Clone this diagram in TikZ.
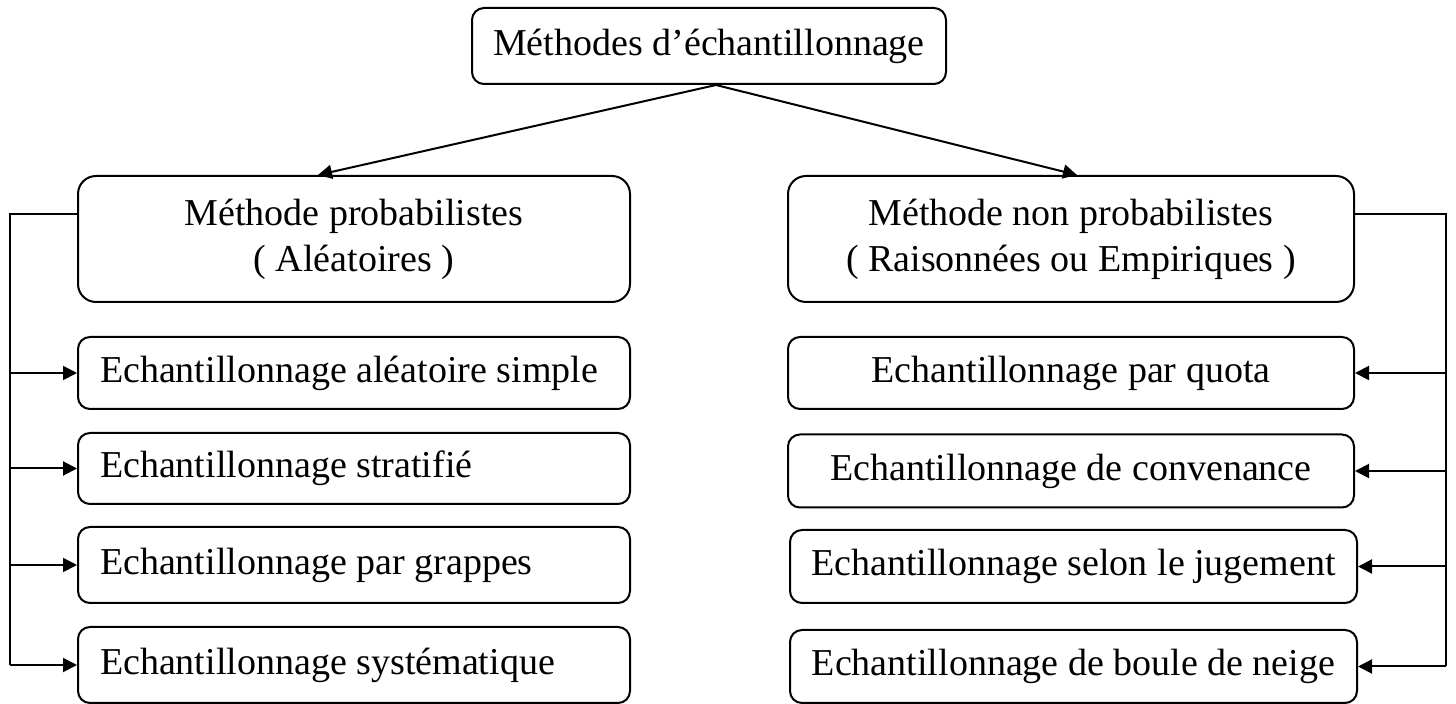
\documentclass[tikz,border=0pt]{standalone}
\usepackage{fontspec}
\setmainfont{Liberation Serif}
\usetikzlibrary{arrows.meta}
\newcommand{\lefttext}[1]{\makebox[254pt][l]{#1}}
\begin{document}
\begin{tikzpicture}[x=0.5pt,y=-0.5pt,
  every node/.style={font=\fontsize{19}{23}\selectfont},
  box/.style={draw,line width=1pt,rounded corners=6pt,inner sep=0pt},
  bigbox/.style={box,rounded corners=9pt,align=center},
  lbox/.style={box,minimum height=36pt,inner xsep=11pt,minimum width=276pt},
  rbox/.style={box,minimum height=36pt,align=center},
  link/.style={line width=1pt},
  arr/.style={link,-{Triangle[length=7pt,width=7pt]}}]
\useasboundingbox (0,0) rectangle (1456,704);
\node[box,minimum width=237pt,minimum height=38pt] (top) at (709,46) {Méthodes d’échantillonnage};
\node[bigbox,minimum width=276pt,minimum height=63pt] (L) at (354,239) {Méthode probabilistes\\( Aléatoires )};
\node[bigbox,minimum width=283pt,minimum height=63pt] (R) at (1071,239) {Méthode non probabilistes\\( Raisonnées ou Empiriques )};
\node[lbox] (l1) at (354,373) {\lefttext{Echantillonnage aléatoire simple}};
\node[lbox,minimum height=35.5pt] (l2) at (354,468.5) {\lefttext{Echantillonnage stratifié}};
\node[lbox,minimum height=38pt] (l3) at (354,565) {\lefttext{Echantillonnage par grappes}};
\node[lbox,minimum height=38pt] (l4) at (354,665) {\lefttext{Echantillonnage systématique}};
\node[rbox,minimum width=283pt] (r1) at (1071,373) {Echantillonnage par quota};
\node[rbox,minimum width=283pt,minimum height=36.5pt] (r2) at (1071,471) {Echantillonnage de convenance};
\node[rbox,minimum width=283.5pt,minimum height=36.5pt] (r3) at (1073.5,566.5) {Echantillonnage selon le jugement};
\node[rbox,minimum width=283.5pt,minimum height=36.5pt] (r4) at (1073.5,666.5) {Echantillonnage de boule de neige};
\coordinate (lb) at (10,665);
\coordinate (rb) at (1446,666.5);
\draw[arr] ([xshift=3.5pt]top.south) -- ([xshift=-18pt]L.north);
\draw[arr] ([xshift=3.5pt]top.south) -- ([xshift=3pt]R.north);
\draw[link] ([yshift=12.5pt]L.west) -| (lb);
\draw[link] ([yshift=12.5pt]R.east) -| (rb);
\foreach \n in {l1,l2,l3,l4} \draw[arr] (\n.west -| lb) -- (\n.west);
\foreach \n in {r1,r2,r3,r4} \draw[arr] (\n.east -| rb) -- (\n.east);
\end{tikzpicture}
\end{document}
